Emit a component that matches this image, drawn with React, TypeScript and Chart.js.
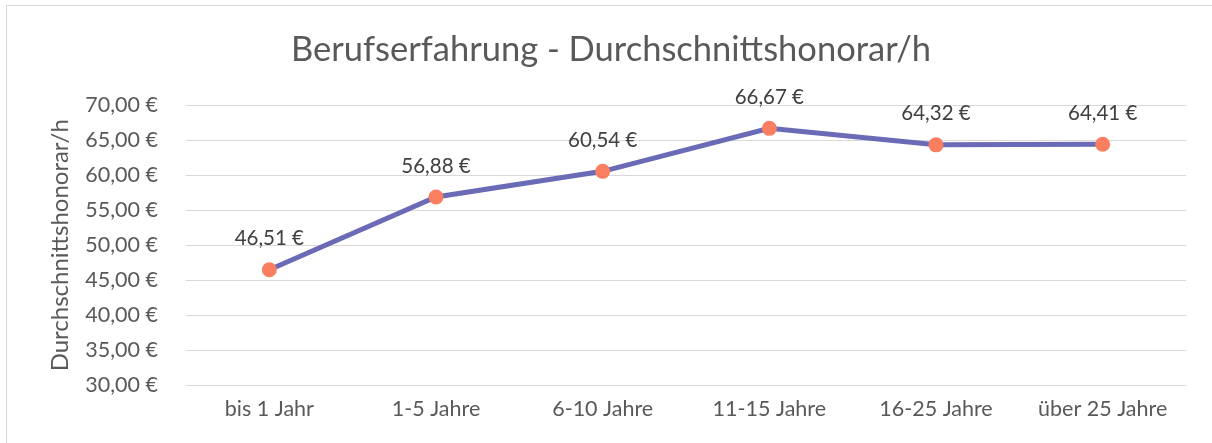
import React, { useEffect, useRef } from "react";
import { Chart, registerables } from "chart.js";

Chart.register(...registerables);

const categories = ["bis 1 Jahr", "1-5 Jahre", "6-10 Jahre", "11-15 Jahre", "16-25 Jahre", "über 25 Jahre"];
const values = [46.51, 56.88, 60.54, 66.67, 64.32, 64.41];
const yMin = 30;
const yMax = 70;
const yStep = 5;
const chartTitle = "Berufserfahrung - Durchschnittshonorar/h";
const yTitle = "Durchschnittshonorar/h";

const FONT = "Lato, 'Open Sans', sans-serif";

const fmt = (v: number) => v.toFixed(2).replace(".", ",") + " €";

const dataLabelPlugin = {
  id: "dataLabels",
  afterDatasetsDraw(chart: any) {
    const ctx = chart.ctx;
    const meta = chart.getDatasetMeta(0);
    ctx.save();
    ctx.font = `20.5px ${FONT}`;
    ctx.fillStyle = "#404040";
    ctx.textAlign = "center";
    ctx.textBaseline = "middle";
    meta.data.forEach((pt: any, i: number) => {
      ctx.fillText(fmt(values[i]), pt.x, pt.y - 31);
    });
    ctx.restore();
  },
};

const titlePlugin = {
  id: "centerTitle",
  afterDraw(chart: any) {
    const ctx = chart.ctx;
    ctx.save();
    ctx.font = `34.5px ${FONT}`;
    ctx.fillStyle = "#595959";
    ctx.textAlign = "center";
    ctx.textBaseline = "middle";
    ctx.fillText(chartTitle, chart.width / 2 + 5, 50);
    ctx.restore();
  },
};

export default function App() {
  const ref = useRef<HTMLCanvasElement>(null);
  useEffect(() => {
    if (!ref.current) return;
    const chart = new Chart(ref.current, {
      type: "line",
      data: {
        labels: categories,
        datasets: [
          {
            data: values,
            borderColor: "#6a6ab7",
            borderWidth: 5,
            pointBackgroundColor: "#fa7f60",
            pointBorderColor: "#fa7f60",
            pointBorderWidth: 0,
            pointRadius: 7.5,
            tension: 0,
          },
        ],
      },
      options: {
        animation: false,
        responsive: false,
        maintainAspectRatio: false,
        layout: { padding: { left: 0, right: 26, top: 105, bottom: 0 } },
        plugins: {
          legend: { display: false },
          tooltip: { enabled: false },
          title: { display: false },
        },
        scales: {
          x: {
            offset: true,
            grid: { display: false, drawTicks: false },
            border: { display: false },
            ticks: {
              color: "#595959",
              font: { family: FONT, size: 21.5 },
              padding: 11,
              maxRotation: 0,
            },
            afterFit: (scale: any) => {
              scale.height = 443 - 385.5;
            },
          },
          y: {
            min: yMin,
            max: yMax,
            grid: { color: "#d9d9d9", lineWidth: 1, drawTicks: false },
            border: { display: false },
            ticks: {
              stepSize: yStep,
              color: "#595959",
              font: { family: FONT, size: 21.5 },
              padding: 28,
              callback: (v: any) => fmt(Number(v)),
            },
            title: {
              display: true,
              text: yTitle,
              color: "#595959",
              font: { family: FONT, size: 24, weight: "normal" },
              padding: { top: 60 - 14.4, bottom: 0 },
            },
            afterFit: (scale: any) => {
              scale.width = 186;
            },
          },
        },
      },
      plugins: [dataLabelPlugin, titlePlugin],
    });
    return () => chart.destroy();
  }, []);

  return (
    <div style={{ position: "absolute", left: 0, top: 0, width: 1212, height: 443, overflow: "hidden", background: "#fff" }}>
      <div
        style={{
          position: "absolute",
          left: 6,
          top: 5,
          width: 1300,
          height: 600,
          borderLeft: "1px solid #d9d9d9",
          borderTop: "1px solid #d9d9d9",
        }}
      />
      <canvas ref={ref} width={1212} height={443} style={{ position: "absolute", left: 0, top: 0 }} />
    </div>
  );
}
